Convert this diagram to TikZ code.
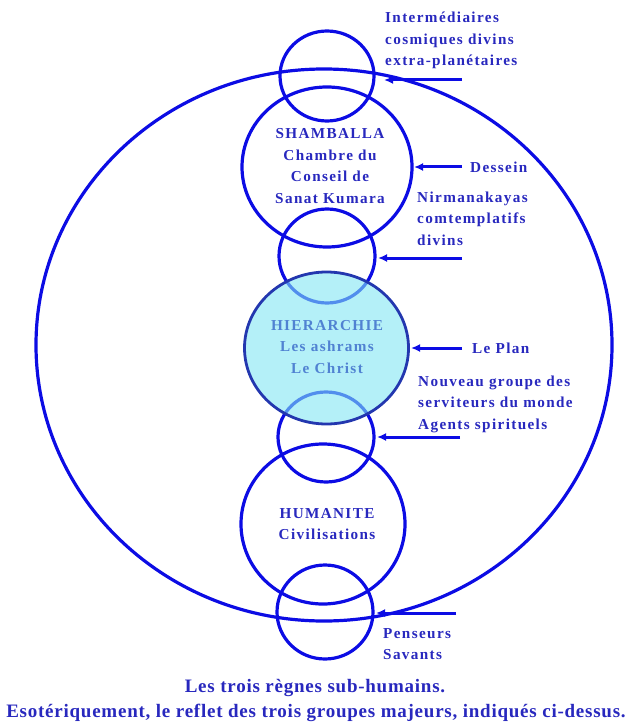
\documentclass[tikz,border=0pt]{standalone}
\usepackage{fontspec}
\setmainfont{Liberation Serif}
\newfontfamily\labfont[LetterSpace=9]{Liberation Serif}
\newfontfamily\capfont[LetterSpace=4]{Liberation Serif}
\usetikzlibrary{arrows.meta}
\definecolor{lineblue}{RGB}{12,12,228}
\definecolor{txtblue}{RGB}{40,40,190}
\definecolor{hiertxt}{RGB}{80,130,210}
\definecolor{hierfill}{RGB}{130,230,243}
\definecolor{hierdraw}{RGB}{35,55,175}
\tikzset{
  ring/.style={draw=lineblue, line width=3.2pt},
  lbl/.style={text=txtblue, font=\labfont\bfseries\fontsize{15.2}{21.5}\selectfont, inner sep=0pt},
  side/.style={lbl, align=left, anchor=west},
  inner/.style={lbl, align=center},
  arr/.style={draw=lineblue, line width=3pt, -{Latex[length=9pt,width=8pt]}},
}
\begin{document}
\begin{tikzpicture}[x=1pt,y=-1pt]
\useasboundingbox (0,0) rectangle (633,727);
% big ellipse
\draw[ring] (324,345) ellipse [x radius=288, y radius=276];
% small circles
\draw[ring] (327,76) ellipse [x radius=47, y radius=45];
\draw[ring] (327,256) ellipse [x radius=48, y radius=47];
\draw[ring] (326,437) ellipse [x radius=48, y radius=45];
\draw[ring] (325,612) ellipse [x radius=48, y radius=47];
% big circles
\draw[ring] (327,167) ellipse [x radius=85, y radius=80];
\draw[ring] (323,524) ellipse [x radius=82, y radius=80];
% hierarchy
\fill[hierfill, fill opacity=0.6] (326.5,348) ellipse [x radius=82, y radius=76];
\draw[draw=hierdraw, line width=2.8pt] (326.5,348) ellipse [x radius=82, y radius=76];

% inner labels
\node[inner] (sham) at (330,166) {SHAMBALLA\\Chambre du\\Conseil de\\Sanat Kumara};
\node[inner, text=hiertxt] (hier) at (327,347) {HIERARCHIE\\Les ashrams\\Le Christ};
\node[inner] (hum) at (327,524) {HUMANITE\\Civilisations};

% side labels
\node[side] (inter) at (385,40.5) {Intermédiaires\\cosmiques divins\\extra-planétaires};
\node[side] (dess) at (470,167) {Dessein};
\node[side] (nirm) at (417,218.5) {Nirmanakayas\\comtemplatifs\\divins};
\node[side] (plan) at (472,348) {Le Plan};
\node[side] (nouv) at (418,404) {Nouveau groupe des\\serviteurs du monde\\Agents spirituels};
\node[side] (pens) at (383,644) {Penseurs\\Savants};

% arrows
\coordinate (s1) at (462,80);   \coordinate (t1) at (384,80);
\coordinate (s2) at (462,167);  \coordinate (t2) at (414,167);
\coordinate (s3) at (462,258);  \coordinate (t3) at (378,258);
\coordinate (s4) at (462,348);  \coordinate (t4) at (411,348);
\coordinate (s5) at (460,437);  \coordinate (t5) at (377,437);
\coordinate (s6) at (456,613);  \coordinate (t6) at (376,613);
\draw[arr] (s1) -- (t1);
\draw[arr] (s2) -- (t2);
\draw[arr] (s3) -- (t3);
\draw[arr] (s4) -- (t4);
\draw[arr] (s5) -- (t5);
\draw[arr] (s6) -- (t6);

% caption
\node[text=txtblue, font=\capfont\bfseries\fontsize{19}{24}\selectfont, inner sep=0pt] (cap1) at (315,688) {Les trois règnes sub-humains.};
\node[text=txtblue, font=\capfont\bfseries\fontsize{19}{24}\selectfont, inner sep=0pt] (cap2) at (316,713) {Esotériquement, le reflet des trois groupes majeurs, indiqués ci-dessus.};
\end{tikzpicture}
\end{document}
